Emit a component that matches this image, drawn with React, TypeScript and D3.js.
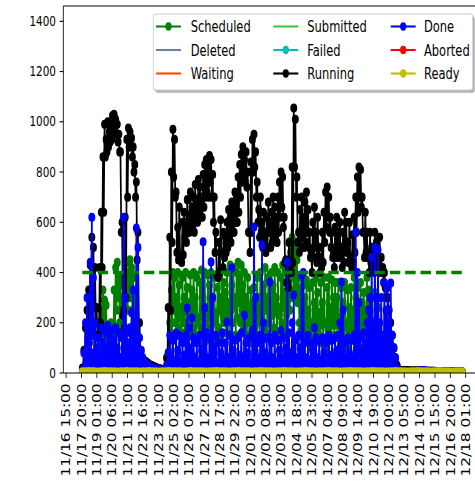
import React, { useEffect } from 'react';
import * as d3 from 'd3';

// ---------------- data ----------------
const tickLabels = [
  '11/16 15:00', '11/17 20:00', '11/19 01:00', '11/20 06:00', '11/21 11:00', '11/22 16:00',
  '11/23 21:00', '11/25 02:00', '11/26 07:00', '11/27 12:00', '11/28 17:00', '11/29 22:00',
  '12/01 03:00', '12/02 08:00', '12/03 13:00', '12/04 18:00', '12/05 23:00', '12/07 04:00',
  '12/08 09:00', '12/09 14:00', '12/10 19:00', '12/12 00:00', '12/13 05:00', '12/14 10:00',
  '12/15 15:00', '12/16 20:00', '12/18 01:00',
];
const yTicks = [0, 200, 400, 600, 800, 1000, 1200, 1400];
const dataStart = '11/17 21:36';
const dataEnd = '12/17 18:36';
const threshold = 400;

// 3-hour bins: peak value of each bin
const running = [
  20, 90, 180, 250, 330, 430, 540, 500, 420, 260,
  200, 420, 640, 860, 990, 930, 1000, 960, 990, 1025,
  1030, 1010, 990, 950, 880, 600, 250, 620, 930, 975,
  960, 935, 900, 830, 760, 560, 200, 90, 60, 50,
  45, 40, 35, 30, 28, 25, 22, 20, 18, 16,
  15, 14, 13, 60, 260, 540, 800, 970, 930, 720,
  580, 660, 450, 600, 640, 600, 690, 630, 720, 660,
  700, 750, 690, 770, 740, 700, 790, 830, 850, 820,
  865, 850, 790, 700, 560, 390, 520, 610, 480, 560,
  540, 600, 650, 620, 680, 660, 720, 700, 780, 830,
  870, 900, 850, 880, 800, 560, 840, 930, 950, 880,
  760, 650, 700, 600, 640, 560, 620, 680, 600, 640,
  700, 660, 620, 700, 760, 800, 780, 620, 450, 360,
  520, 430, 820, 1055, 1010, 780, 560, 650, 700, 620,
  680, 720, 650, 560, 480, 600, 660, 560, 620, 500,
  460, 560, 640, 720, 740, 700, 620, 560, 480, 580,
  620, 560, 600, 500, 560, 640, 600, 520, 600, 460,
  550, 620, 700, 780, 820, 810, 700, 560, 640, 560,
  460, 560, 500, 470, 560, 520, 460, 540, 460, 420,
  400, 340, 300, 250, 200, 150, 100, 60, 30, 15,
  10, 10, 9, 9, 9, 8, 8, 8, 8, 8,
  8, 8, 8, 7, 7, 7, 7, 7, 7, 7,
  7, 7, 6, 6, 6, 6, 6, 6, 6, 6,
  6, 6, 6, 6, 6, 5, 5, 5, 5, 5,
];
// 3-hour bins: low value reached inside each bin
const runningLow = [
  0, 10, 30, 60, 120, 200, 300, 260, 200, 150,
  150, 200, 420, 640, 860, 880, 900, 920, 930, 950,
  960, 950, 920, 880, 560, 230, 180, 300, 700, 900,
  900, 860, 800, 700, 450, 200, 60, 50, 45, 40,
  40, 35, 30, 28, 25, 22, 20, 18, 16, 15,
  14, 13, 12, 12, 40, 250, 520, 780, 700, 480,
  450, 460, 440, 470, 540, 520, 560, 560, 600, 580,
  560, 620, 600, 640, 620, 620, 660, 700, 720, 700,
  760, 700, 600, 480, 390, 380, 400, 480, 420, 460,
  480, 500, 540, 520, 560, 560, 600, 600, 640, 700,
  760, 780, 760, 740, 560, 480, 560, 800, 820, 700,
  600, 540, 560, 500, 520, 480, 500, 560, 500, 520,
  560, 540, 520, 560, 620, 660, 580, 440, 360, 340,
  400, 400, 440, 820, 700, 520, 480, 500, 540, 500,
  520, 560, 500, 460, 400, 460, 500, 440, 460, 400,
  420, 440, 520, 580, 620, 560, 500, 460, 420, 460,
  480, 460, 480, 420, 440, 500, 480, 440, 460, 420,
  440, 480, 560, 640, 700, 660, 560, 460, 480, 460,
  400, 440, 420, 400, 440, 420, 400, 420, 400, 360,
  340, 300, 250, 200, 150, 100, 60, 30, 15, 10,
  10, 10, 9, 9, 9, 8, 8, 8, 8, 8,
  8, 8, 8, 7, 7, 7, 7, 7, 7, 7,
  7, 7, 6, 6, 6, 6, 6, 6, 6, 6,
  6, 6, 6, 6, 6, 5, 5, 5, 5, 5,
];

const done = [
  10, 80, 200, 300, 180, 440, 620, 380, 200, 100,
  140, 60, 180, 120, 170, 90, 190, 150, 110, 170,
  130, 180, 100, 160, 60, 140, 620, 300, 160, 120,
  180, 240, 330, 200, 577, 500, 140, 90, 60, 40,
  35, 30, 25, 22, 20, 18, 16, 14, 12, 11,
  10, 10, 10, 30, 80, 150, 60, 130, 40, 160,
  90, 150, 40, 120, 70, 150, 258, 180, 100, 220,
  140, 60, 120, 40, 150, 90, 522, 260, 160, 60,
  140, 442, 300, 100, 150, 40, 120, 80, 160, 50,
  120, 203, 60, 150, 418, 90, 130, 40, 140, 70,
  160, 60, 230, 120, 80, 140, 40, 170, 581, 300,
  120, 60, 150, 510, 200, 80, 140, 50, 362, 120,
  60, 150, 40, 130, 90, 170, 60, 140, 100, 442,
  160, 80, 200, 310, 130, 60, 150, 100, 390, 400,
  120, 60, 150, 40, 120, 90, 180, 140, 60, 130,
  50, 140, 80, 120, 40, 150, 70, 130, 60, 140,
  90, 150, 200, 362, 250, 120, 60, 140, 80, 130,
  60, 150, 561, 400, 280, 140, 90, 160, 120, 200,
  250, 300, 460, 200, 500, 300, 490, 200, 300, 150,
  360, 250, 340, 200, 358, 150, 100, 60, 20, 10,
  5, 5, 5, 5, 4, 4, 4, 4, 4, 4,
  4, 6, 8, 8, 9, 8, 8, 6, 4, 4,
  4, 4, 4, 4, 4, 3, 3, 3, 3, 3,
  3, 3, 3, 3, 3, 3, 3, 3, 3, 3,
];
const doneLow = [
  5, 10, 20, 40, 30, 60, 150, 80, 40, 20,
  20, 10, 20, 15, 25, 10, 30, 20, 15, 25,
  20, 25, 15, 20, 10, 20, 30, 40, 20, 15,
  20, 30, 40, 30, 60, 80, 30, 20, 15, 15,
  35, 30, 25, 22, 20, 18, 16, 14, 12, 11,
  10, 10, 10, 10, 15, 20, 10, 20, 10, 20,
  15, 25, 10, 20, 15, 30, 20, 10, 25, 15,
  20, 10, 25, 15, 30, 10, 20, 25, 15, 10,
  25, 15, 30, 10, 20, 15, 25, 10, 20, 15,
  10, 25, 15, 20, 30, 10, 20, 15, 25, 10,
  20, 15, 30, 10, 25, 20, 10, 15, 30, 20,
  15, 10, 25, 20, 30, 15, 20, 10, 25, 15,
  10, 20, 15, 25, 10, 30, 15, 20, 10, 25,
  20, 10, 25, 30, 15, 10, 20, 15, 25, 30,
  15, 10, 20, 15, 25, 10, 30, 20, 10, 15,
  10, 20, 15, 25, 10, 20, 15, 30, 10, 20,
  15, 25, 20, 30, 20, 15, 10, 20, 15, 25,
  10, 20, 30, 25, 20, 15, 10, 25, 15, 20,
  20, 30, 40, 20, 50, 30, 40, 20, 30, 20,
  30, 20, 30, 20, 30, 20, 15, 10, 8, 5,
  5, 5, 5, 5, 4, 4, 4, 4, 4, 4,
  4, 6, 8, 8, 9, 8, 8, 6, 4, 4,
  4, 4, 4, 4, 4, 3, 3, 3, 3, 3,
  3, 3, 3, 3, 3, 3, 3, 3, 3, 3,
];

const scheduled = [
  0, 10, 30, 60, 40, 80, 50, 30, 60, 40,
  60, 120, 250, 330, 290, 270, 180, 140, 200, 160,
  330, 420, 440, 380, 350, 300, 200, 260, 400, 440,
  450, 420, 380, 300, 200, 80, 20, 5, 2, 0,
  0, 0, 0, 0, 0, 0, 0, 0, 0, 0,
  0, 0, 0, 10, 80, 200, 330, 400, 380, 300,
  400, 350, 260, 380, 300, 400, 340, 280, 390, 330,
  400, 300, 380, 220, 360, 410, 300, 400, 260, 390,
  350, 400, 300, 380, 240, 340, 400, 300, 410, 360,
  320, 400, 280, 430, 350, 420, 300, 400, 440, 380,
  430, 350, 400, 300, 380, 250, 330, 280, 340, 300,
  380, 300, 400, 260, 350, 420, 300, 380, 280, 400,
  350, 420, 300, 400, 260, 380, 430, 320, 400, 420,
  420, 480, 540, 500, 520, 450, 380, 330, 280, 350,
  300, 370, 250, 340, 200, 360, 280, 380, 320, 240,
  360, 280, 380, 200, 340, 380, 260, 370, 300, 360,
  300, 360, 220, 340, 280, 360, 200, 330, 260, 340,
  250, 380, 300, 340, 200, 360, 280, 320, 250, 380,
  330, 250, 300, 200, 320, 180, 260, 150, 100, 50,
  20, 5, 0, 0, 0, 0, 0, 0, 0, 0,
  0, 0, 0, 0, 0, 0, 0, 0, 0, 0,
  0, 0, 0, 0, 0, 0, 0, 0, 0, 0,
  0, 0, 0, 0, 0, 0, 0, 0, 0, 0,
  0, 0, 0, 0, 0, 0, 0, 0, 0, 0,
];
const scheduledLow = [
  0, 0, 10, 20, 20, 30, 20, 10, 20, 20,
  30, 60, 100, 200, 150, 120, 80, 60, 100, 80,
  150, 250, 300, 200, 180, 150, 80, 120, 250, 300,
  300, 250, 200, 150, 80, 20, 5, 2, 0, 0,
  0, 0, 0, 0, 0, 0, 0, 0, 0, 0,
  0, 0, 0, 0, 20, 80, 150, 250, 200, 150,
  180, 220, 150, 200, 160, 250, 200, 150, 220, 180,
  220, 150, 200, 120, 180, 250, 150, 200, 130, 220,
  180, 250, 150, 200, 130, 180, 250, 150, 230, 200,
  160, 230, 150, 250, 200, 260, 150, 220, 280, 200,
  250, 180, 230, 150, 200, 120, 170, 140, 180, 150,
  200, 150, 230, 130, 180, 250, 150, 200, 140, 230,
  180, 250, 150, 230, 130, 200, 260, 160, 230, 250,
  250, 300, 380, 330, 350, 280, 200, 170, 140, 180,
  150, 200, 130, 180, 100, 190, 140, 200, 160, 120,
  190, 140, 200, 100, 170, 200, 130, 190, 150, 190,
  150, 190, 110, 170, 140, 190, 100, 170, 130, 170,
  130, 200, 150, 170, 100, 190, 140, 160, 130, 200,
  170, 130, 150, 100, 160, 90, 130, 70, 50, 20,
  10, 2, 0, 0, 0, 0, 0, 0, 0, 0,
  0, 0, 0, 0, 0, 0, 0, 0, 0, 0,
  0, 0, 0, 0, 0, 0, 0, 0, 0, 0,
  0, 0, 0, 0, 0, 0, 0, 0, 0, 0,
  0, 0, 0, 0, 0, 0, 0, 0, 0, 0,
];

const submitted = [
  0, 5, 10, 20, 15, 30, 20, 10, 30, 20,
  40, 20, 60, 30, 80, 40, 100, 60, 30, 90,
  60, 100, 40, 80, 30, 100, 50, 90, 40, 70,
  60, 30, 50, 20, 10, 5, 0, 0, 0, 0,
  0, 0, 0, 0, 0, 0, 0, 0, 0, 0,
  0, 0, 0, 5, 20, 40, 60, 30, 50, 20,
  60, 30, 80, 40, 20, 70, 30, 90, 40, 60,
  30, 80, 40, 20, 60, 30, 70, 40, 90, 30,
  50, 20, 80, 40, 60, 30, 90, 50, 20, 70,
  40, 80, 30, 60, 20, 90, 40, 70, 30, 60,
  80, 30, 60, 40, 90, 20, 70, 40, 60, 30,
  50, 90, 30, 70, 40, 60, 20, 80, 40, 60,
  30, 70, 50, 20, 80, 40, 60, 30, 90, 50,
  40, 60, 30, 80, 50, 20, 70, 40, 60, 30,
  80, 40, 60, 20, 90, 50, 30, 70, 40, 60,
  30, 60, 40, 80, 20, 70, 50, 30, 90, 40,
  60, 30, 80, 40, 60, 20, 70, 50, 30, 80,
  40, 70, 30, 60, 90, 40, 60, 20, 80, 50,
  60, 40, 80, 50, 120, 60, 90, 40, 30, 20,
  10, 5, 0, 0, 0, 0, 0, 0, 0, 0,
  0, 0, 0, 0, 0, 0, 0, 0, 0, 0,
  0, 0, 0, 0, 0, 0, 0, 0, 0, 0,
  0, 0, 0, 0, 0, 0, 0, 0, 0, 0,
  0, 0, 0, 0, 0, 0, 0, 0, 0, 0,
];

const ready = [
  5, 5, 6, 5, 5, 4, 5, 6, 5, 5, 5, 4, 5, 5, 6, 5, 5, 5, 4, 5,
  5, 6, 5, 5, 4, 5, 5, 6, 5, 5, 5, 5, 4, 5, 6, 5, 5, 5, 5, 4,
  5, 5, 6, 5, 5, 5, 4, 5, 5, 6, 5, 5, 5, 4, 5, 5, 6, 5, 5, 5,
  4, 5, 5, 6, 5, 5, 5, 4, 5, 5, 6, 5, 5, 4, 5, 5, 5, 6, 5, 5,
  5, 4, 5, 5, 6, 5, 5, 5, 4, 5, 5, 6, 5, 5, 5, 4, 5, 5, 6, 5,
  5, 5, 4, 5, 5, 6, 5, 5, 5, 4, 5, 5, 6, 5, 5, 5, 4, 5, 5, 5,
];

const deleted = [0, 0, 0, 0, 0, 0, 0, 0, 0, 0, 0, 0, 0];
const waiting = [0, 0, 0, 0, 0, 0, 0, 0, 0, 0, 0, 0, 0];
const failed = [0, 0, 0, 0, 0, 0, 0, 0, 0, 0, 0, 0, 0];
const aborted = [0, 0, 0, 0, 0, 0, 0, 0, 0, 0, 0, 0, 0];

// ---------------- layout ----------------
const W = 475;
const H = 494;
const SX = 0.75; // horizontal squeeze of the original figure
const AX_L = 63.3;
const AX_R = 481.3;
const AX_T = 6;
const AX_B = 373;
const FONT = 'DejaVu Sans, sans-serif';
const MR = 4.6;
const LW = 2.3;

const parseT = (s: string) => d3.utcParse('%Y/%m/%d %H:%M')('2023/' + s) as Date;

type S = { name: string; color: string; values: number[]; low?: number[]; marker: boolean };

export default function App() {
  useEffect(() => {
    document.body.style.margin = '0';
  }, []);

  const t0 = parseT(dataStart);
  const t1 = parseT(dataEnd);
  const span = +t1 - +t0;
  const x = d3
    .scaleUtc()
    .domain([new Date(+t0 - 0.05 * span), new Date(+t1 + 0.05 * span)])
    .range([AX_L / SX, AX_R / SX]);
  const y = d3.scaleLinear().domain([0, 1461]).range([AX_B, AX_T]);

  const series: S[] = [
    { name: 'Scheduled', color: '#008000', values: scheduled, low: scheduledLow, marker: true },
    { name: 'Deleted', color: '#708090', values: deleted, marker: false },
    { name: 'Waiting', color: '#ff4500', values: waiting, marker: false },
    { name: 'Submitted', color: '#32cd32', values: submitted, marker: false },
    { name: 'Failed', color: '#00bfbf', values: failed, marker: true },
    { name: 'Running', color: '#000000', values: running, low: runningLow, marker: true },
    { name: 'Done', color: '#0000ff', values: done, low: doneLow, marker: true },
    { name: 'Aborted', color: '#ff0000', values: aborted, marker: true },
    { name: 'Ready', color: '#bfbf00', values: ready, marker: true },
  ];

  const pointsFor = (s: S): [Date, number][] => {
    const n = s.values.length;
    const step = span / (n - 1);
    const pts: [Date, number][] = [];
    for (let i = 0; i < n; i++) {
      pts.push([new Date(+t0 + i * step), s.values[i]]);
      if (s.low) pts.push([new Date(+t0 + i * step + (i < n - 1 ? step / 2 : 0)), s.low[i]]);
    }
    return pts;
  };

  const line = d3
    .line<[Date, number]>()
    .x((d) => x(d[0]))
    .y((d) => y(d[1]));

  const xL = AX_L / SX;
  const xR = AX_R / SX;
  const tickDates = tickLabels.map(parseT);

  // legend geometry (virtual coords)
  const legL = 153.3 / SX;
  const legR = 472.7 / SX;
  const legT = 14;
  const legB = 90;
  const colHandle = [156 / SX, 273.3 / SX, 390.7 / SX];
  const colText = [190.7 / SX, 307.3 / SX, 424 / SX];
  const rowY = [26.5, 50, 73.5];
  const handleLen = 25 / SX;

  return (
    <svg
      width={W}
      height={H}
      viewBox={`0 0 ${W} ${H}`}
      style={{ position: 'absolute', left: 0, top: 0, background: '#fff' }}
    >
      <rect x={0} y={0} width={W} height={H} fill="#fff" />
      <g transform={`scale(${SX},1)`}>
        <defs>
          <clipPath id="axclip">
            <rect x={xL} y={AX_T} width={xR - xL} height={AX_B - AX_T} />
          </clipPath>
        </defs>
        <g clipPath="url(#axclip)">
          {series.map((s) => {
            const pts = pointsFor(s);
            return (
              <g key={s.name}>
                <path d={line(pts) || ''} fill="none" stroke={s.color} strokeWidth={LW} strokeLinejoin="round" />
                {s.marker &&
                  pts.map((p, i) => <circle key={i} cx={x(p[0])} cy={y(p[1])} r={MR} fill={s.color} />)}
              </g>
            );
          })}
          <line
            x1={x(t0)}
            x2={x(t1)}
            y1={y(threshold)}
            y2={y(threshold)}
            stroke="#008000"
            strokeWidth={3.6}
            strokeDasharray="14 6.5"
          />
        </g>

        {/* spines */}
        <line x1={xL} x2={xL} y1={AX_T} y2={AX_B} stroke="#000" strokeWidth={1.1} />
        <line x1={xL} x2={xR} y1={AX_B} y2={AX_B} stroke="#000" strokeWidth={1.1} />
        <line x1={xL} x2={xR} y1={AX_T} y2={AX_T} stroke="#000" strokeWidth={1.1} />
        <line x1={xR} x2={xR} y1={AX_T} y2={AX_B} stroke="#000" strokeWidth={1.1} />

        {/* y ticks */}
        {yTicks.map((v) => (
          <g key={v}>
            <line x1={xL - 4.9} x2={xL} y1={y(v)} y2={y(v)} stroke="#000" strokeWidth={1.1} />
            <text
              x={xL - 9.8}
              y={y(v)}
              textAnchor="end"
              dominantBaseline="central"
              fontFamily={FONT}
              fontSize={13.9}
              fill="#000"
            >
              {v}
            </text>
          </g>
        ))}

        {/* x ticks */}
        {tickDates.map((d, i) => (
          <g key={i}>
            <line x1={x(d)} x2={x(d)} y1={AX_B} y2={AX_B + 4.9} stroke="#000" strokeWidth={1.1} />
            <text
              transform={`translate(${x(d)},${AX_B + 10.5}) rotate(-90)`}
              textAnchor="end"
              dominantBaseline="central"
              fontFamily={FONT}
              fontSize={15.3}
              fill="#000"
            >
              {tickLabels[i]}
            </text>
          </g>
        ))}

        {/* legend */}
        <rect
          x={legL + 2.8}
          y={legT + 2.8}
          width={legR - legL}
          height={legB - legT}
          rx={3}
          fill="#000"
          opacity={0.3}
        />
        <rect
          x={legL}
          y={legT}
          width={legR - legL}
          height={legB - legT}
          rx={3}
          fill="#fff"
          stroke="#cccccc"
          strokeWidth={1.1}
        />
        {series.map((s, i) => {
          const col = Math.floor(i / 3);
          const row = i % 3;
          const hx = colHandle[col];
          const hy = rowY[row];
          return (
            <g key={s.name}>
              <line x1={hx} x2={hx + handleLen} y1={hy} y2={hy} stroke={s.color} strokeWidth={2.08} />
              {s.marker && <circle cx={hx + handleLen / 2} cy={hy} r={4.15} fill={s.color} />}
              <text
                x={colText[col]}
                y={hy}
                dominantBaseline="central"
                fontFamily={FONT}
                fontSize={15.3}
                fill="#000"
              >
                {s.name}
              </text>
            </g>
          );
        })}
      </g>
    </svg>
  );
}
